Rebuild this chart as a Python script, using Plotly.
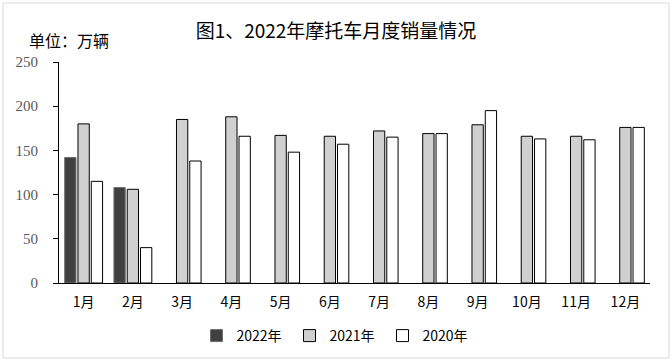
import plotly.graph_objects as go

months = ["1月", "2月", "3月", "4月", "5月", "6月", "7月", "8月", "9月", "10月", "11月", "12月"]
sales_2022 = [142, 108, None, None, None, None, None, None, None, None, None, None]
sales_2021 = [180, 106, 185, 188, 167, 166, 172, 169, 179, 166, 166, 176]
sales_2020 = [115, 40, 138, 166, 148, 157, 165, 169, 195, 163, 162, 176]

W, H = 672, 364
ML, MR, MT, MB = 59, 22, 62, 81
pw, ph = W - ML - MR, H - MT - MB

num_font = "Liberation Serif, Noto Sans CJK SC, serif"
cjk_font = "Noto Sans CJK SC, sans-serif"

fig = go.Figure()
fig.add_bar(x=months, y=sales_2022, name="2022年",
            marker=dict(color="#404040", line=dict(color="#707070", width=1)))
fig.add_bar(x=months, y=sales_2021, name="2021年",
            marker=dict(color="#d0d0d0", line=dict(color="#000000", width=1)))
fig.add_bar(x=months, y=sales_2020, name="2020年",
            marker=dict(color="#ffffff", line=dict(color="#000000", width=1)))

fig.update_layout(
    width=W, height=H,
    margin=dict(l=ML, r=MR, t=MT, b=MB, autoexpand=False),
    paper_bgcolor="white", plot_bgcolor="white",
    barmode="group", bargap=0.19, bargroupgap=0.15,
    title=dict(text="图1、2022年摩托车月度销量情况", x=0.5, xref="container",
               y=1 - 31 / H, yanchor="middle",
               font=dict(family=cjk_font, size=19, color="#000000")),
    font=dict(family=cjk_font, size=13, color="#000000"),
    showlegend=True,
    legend=dict(orientation="h", x=(336 - ML) / pw, xanchor="center",
                y=-53 / ph, yanchor="middle",
                font=dict(family=cjk_font, size=14, color="#000000"),
                entrywidth=48, entrywidthmode="pixels", tracegroupgap=0),
    xaxis=dict(showline=True, linecolor="#000000", linewidth=1,
               ticks="", showgrid=False, zeroline=False, automargin=False,
               tickfont=dict(family=cjk_font, size=14, color="#000000"),
               ticklabelstandoff=6),
    yaxis=dict(range=[0, 250], tickvals=[0, 50, 100, 150, 200, 250],
               showline=True, linecolor="#000000", linewidth=1,
               ticks="outside", ticklen=5, tickcolor="#000000",
               showgrid=False, zeroline=False, automargin=False,
               tickfont=dict(family=num_font, size=15, color="#595959"),
               ticklabelstandoff=12),
    annotations=[dict(text="单位：万辆", xref="paper", yref="paper",
                      x=(27 - ML) / pw, y=1 + (MT - 40) / ph,
                      xanchor="left", yanchor="middle", showarrow=False,
                      font=dict(family=cjk_font, size=16, color="#000000"))],
    shapes=[dict(type="rect", xref="paper", yref="paper",
                 x0=(3 - ML) / pw, x1=(669 - ML) / pw,
                 y0=1 + (MT - 3) / ph, y1=-(358 - MT - ph) / ph,
                 line=dict(color="#d9d9d9", width=1), fillcolor="rgba(0,0,0,0)",
                 layer="below")],
)

fig.write_html("out.html", config={"displayModeBar": False},
               post_script="document.body.style.margin='0';")
